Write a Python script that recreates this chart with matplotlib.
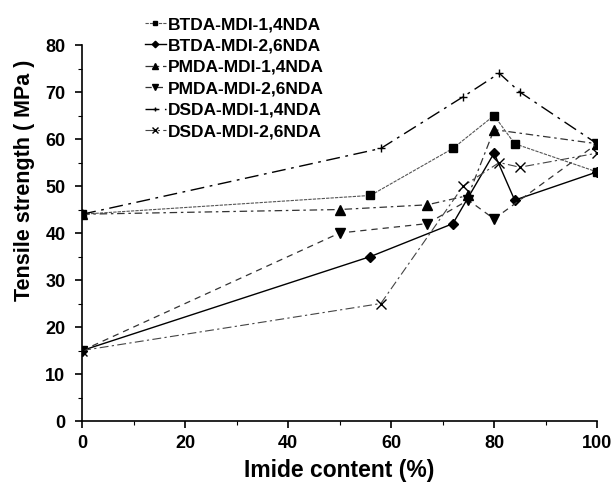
import numpy as np
import matplotlib.pyplot as plt
from matplotlib.ticker import MultipleLocator

plt.rcParams['font.family'] = ['Liberation Sans', 'DejaVu Sans']

# 拉伸強度 vs 醯亞胺含量
x_btda14 = [0, 56, 72, 80, 84, 100]
y_btda14 = [44, 48, 58, 65, 59, 53]
x_btda26 = [0, 56, 72, 80, 84, 100]
y_btda26 = [15, 35, 42, 57, 47, 53]
x_pmda14 = [0, 50, 67, 75, 80, 100]
y_pmda14 = [44, 45, 46, 48, 62, 59]
x_pmda26 = [0, 50, 67, 75, 80, 100]
y_pmda26 = [15, 40, 42, 47, 43, 59]
x_dsda14 = [0, 58, 74, 81, 85, 100]
y_dsda14 = [44, 58, 69, 74, 70, 59]
x_dsda26 = [0, 58, 74, 81, 85, 100]
y_dsda26 = [15, 25, 50, 55, 54, 57]
names = ['BTDA-MDI-1,4NDA', 'BTDA-MDI-2,6NDA', 'PMDA-MDI-1,4NDA',
         'PMDA-MDI-2,6NDA', 'DSDA-MDI-1,4NDA', 'DSDA-MDI-2,6NDA']

fig = plt.figure(figsize=(6.13, 4.87), dpi=100)
ax = fig.add_axes([0.134, 0.1355, 0.84, 0.772])

ax.plot(x_btda14, y_btda14, color='#555555', lw=0.8, ls=(0, (3, 1)), marker='s', ms=6, mfc='k', mec='k', label=names[0])
ax.plot(x_btda26, y_btda26, color='k', lw=1.0, ls='-', marker='D', ms=5.5, mfc='k', mec='k', label=names[1])
ax.plot(x_pmda14, y_pmda14, color='#333333', lw=0.9, ls=(0, (6, 3, 2, 3)), marker='^', ms=6.5, mfc='k', mec='k', label=names[2])
ax.plot(x_pmda26, y_pmda26, color='#333333', lw=0.9, ls=(0, (5, 4)), marker='v', ms=6.5, mfc='k', mec='k', label=names[3])
ax.plot(x_dsda14, y_dsda14, color='k', lw=1.0, ls=(0, (10, 4, 2, 4)), marker='+', ms=6, mec='k', label=names[4])
ax.plot(x_dsda26, y_dsda26, color='#444444', lw=0.8, ls=(0, (8, 3, 2, 3)), marker='x', ms=7, mec='k', label=names[5])

ax.set_xlim(0, 100)
ax.set_ylim(0, 80)
ax.xaxis.set_major_locator(MultipleLocator(20))
ax.xaxis.set_minor_locator(MultipleLocator(10))
ax.yaxis.set_major_locator(MultipleLocator(10))
ax.yaxis.set_minor_locator(MultipleLocator(5))
ax.spines['top'].set_visible(False)
ax.spines['right'].set_visible(False)
ax.spines['left'].set_linewidth(1.2)
ax.spines['bottom'].set_linewidth(1.2)
ax.tick_params(which='major', length=5, width=1.2, labelsize=13)
ax.tick_params(axis='y', which='major', pad=7)
ax.tick_params(axis='x', which='major', pad=5)
ax.tick_params(which='minor', length=3, width=0.8)
for t in ax.get_xticklabels() + ax.get_yticklabels():
    t.set_fontweight('bold')

ax.set_xlabel('Imide content (%)', fontsize=16.5, fontweight='bold', labelpad=5)
ax.set_ylabel('Tensile strength ( MPa )', fontsize=15.5, fontweight='bold')
ax.yaxis.set_label_coords(-0.092, 0.64)

leg = fig.legend(*ax.get_legend_handles_labels(), loc='upper left',
                 bbox_to_anchor=(145 / 613, 1 - 17 / 487), frameon=False,
                 borderpad=0, borderaxespad=0,
                 prop={'size': 12.5, 'weight': 'bold'}, handlelength=1.2,
                 handletextpad=0.1, labelspacing=0.36, markerscale=0.6)

fig.savefig('out.png', dpi=100)
